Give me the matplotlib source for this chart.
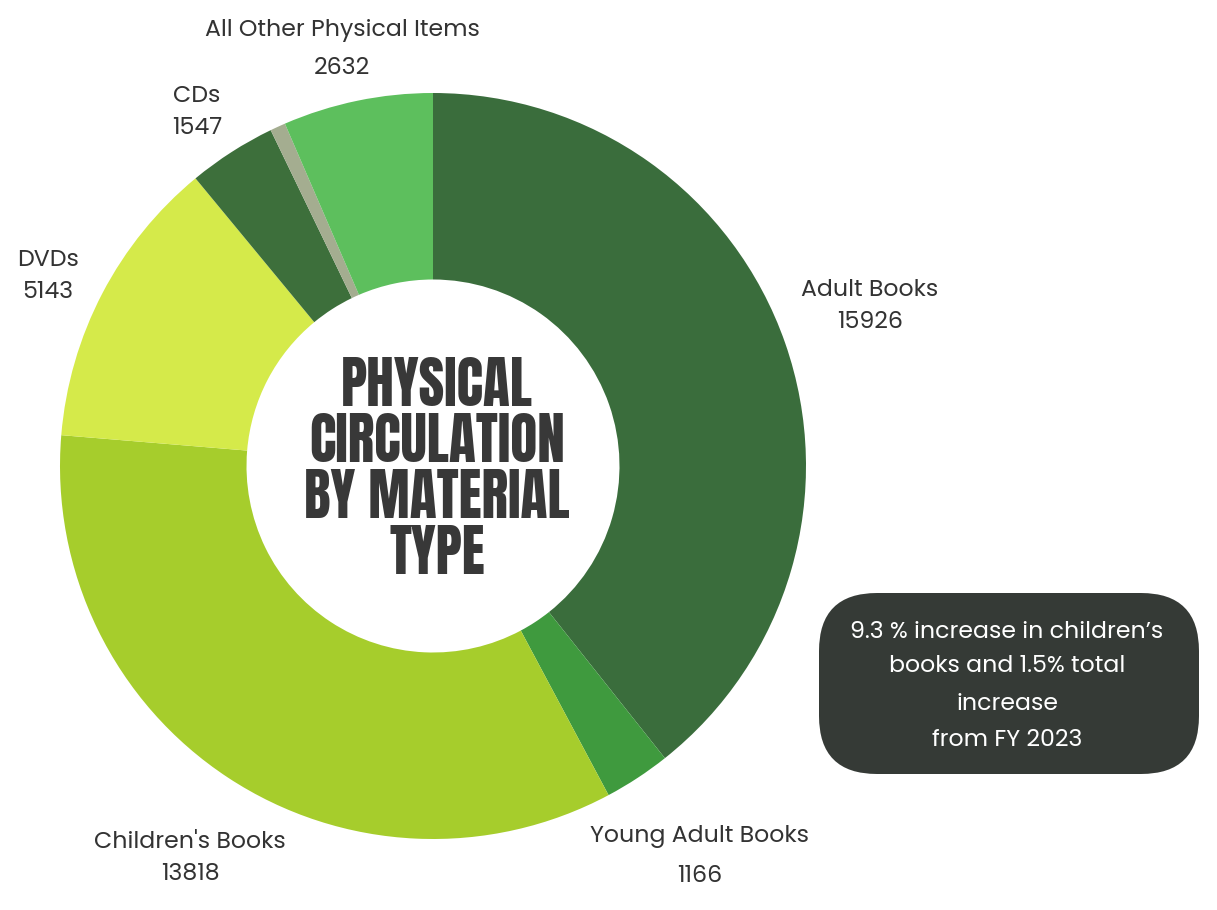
import matplotlib
matplotlib.use("Agg")
import matplotlib.pyplot as plt
from matplotlib.patches import FancyBboxPatch

# Physical circulation counts by material type
categories = ["Adult Books", "Young Adult Books", "Children's Books", "DVDs",
              "CDs", "", "All Other Physical Items"]
values = [15926, 1166, 13818, 5143, 1547, 270, 2632]
colors = ["#3a6d3c", "#3f9a3e", "#a6cd2c", "#d5ea4a", "#3d6f3b", "#a4ad90", "#5dbf5d"]

# label anchors: (x, name y, value y) in pixels from the top-left corner
label_pos = {
    "Adult Books": (870, 290, 323),
    "Young Adult Books": (700, 837, 876),
    "Children's Books": (190, 843, 875),
    "DVDs": (48, 261, 293),
    "CDs": (197, 97, 128),
    "All Other Physical Items": (342, 30, 68),
}

title_lines = ["PHYSICAL", "CIRCULATION", "BY MATERIAL", "TYPE"]
note_lines = ["9.3 % increase in children\u2019s", "books and 1.5% total",
              "increase", "from FY 2023"]

W, H = 1217, 910
fig = plt.figure(figsize=(W / 100, H / 100), dpi=100)
ax = fig.add_axes([0, 0, 1, 1])

cx, cy, R = 433, H - 466, 373
ax.pie(values, colors=colors, startangle=90, counterclock=False,
       center=(cx, cy), radius=R,
       wedgeprops=dict(width=R * 0.5, linewidth=0))
ax.set_xlim(0, W)
ax.set_ylim(0, H)
ax.set_aspect("equal")
ax.axis("off")

label_font = ["Poppins", "DejaVu Sans"]
for name, val in zip(categories, values):
    if not name:
        continue
    x, y_name, y_val = label_pos[name]
    ax.text(x, H - y_name, name, ha="center", va="center", fontsize=17,
            color="#333333", family=label_font)
    ax.text(x, H - y_val, f"{val}", ha="center", va="center", fontsize=17,
            color="#333333", family=label_font)

# centre title
title_y = [385, 441, 497, 553]
for line, y in zip(title_lines, title_y):
    ax.text(cx + 4, H - y, line, ha="center", va="center", fontsize=40,
            color="#383838", family=["Anton", "DejaVu Sans"])

# note box
box = FancyBboxPatch((819, H - 774), 380, 181,
                     boxstyle="round,pad=0,rounding_size=58",
                     facecolor="#353a36", edgecolor="none")
ax.add_patch(box)
note_y = [633, 667, 704, 741]
for line, y in zip(note_lines, note_y):
    ax.text(1007, H - y, line, ha="center", va="center", fontsize=17,
            color="white", family=label_font)

fig.savefig("out.png", dpi=100)
